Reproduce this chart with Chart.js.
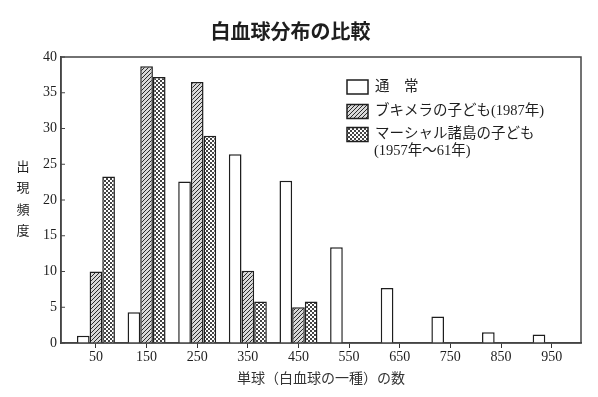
<!DOCTYPE html>
<html>
<head>
<meta charset="utf-8">
<script src="https://cdn.jsdelivr.net/npm/chart.js@4/dist/chart.umd.min.js"></script>
<style>
  html, body { margin: 0; padding: 0; background: #fff; }
  #wrap { width: 598px; height: 397px; }
</style>
</head>
<body>
<div id="wrap"><canvas id="c"></canvas></div>
<script>
const categories = [50, 150, 250, 350, 450, 550, 650, 750, 850, 950]
const normalValues = [1.0, 4.3, 22.6, 26.4, 22.7, 13.4, 7.7, 3.7, 1.5, 1.2]
const bikiniValues = [10.0, 38.7, 36.5, 10.1, 5.0, null, null, null, null, null]
const marshallValues = [23.3, 37.2, 29.0, 5.8, 5.8, null, null, null, null, null]
const yTicks = [0, 5, 10, 15, 20, 25, 30, 35, 40]
const seriesLabels = ['通　常', 'ブキメラの子ども(1987年)', ['マーシャル諸島の子ども', '(1957年～61年)']]

const serif = "'Liberation Serif', 'DejaVu Serif', 'Noto Sans CJK JP', serif"
const jp = "'Noto Sans CJK JP', sans-serif"
const ink = '#1e1e1e'

function makePattern(draw) {
  const c = document.createElement('canvas')
  c.width = 4
  c.height = 4
  const g = c.getContext('2d')
  draw(g)
  return g.createPattern(c, 'repeat')
}

// diagonal hatch
const hatch = makePattern(g => {
  g.fillStyle = '#d8d8d8'
  g.fillRect(0, 0, 4, 4)
  g.strokeStyle = '#2a2a2a'
  g.lineWidth = 1
  g.beginPath()
  g.moveTo(-1, 5); g.lineTo(5, -1)
  g.moveTo(-1, 1); g.lineTo(1, -1)
  g.moveTo(3, 5); g.lineTo(5, 3)
  g.stroke()
})

// fine checker dots
const dots = makePattern(g => {
  g.fillStyle = '#fff'
  g.fillRect(0, 0, 4, 4)
  g.fillStyle = '#444'
  g.fillRect(0, 0, 2, 2)
  g.fillRect(2, 2, 2, 2)
})

const fills = ['#ffffff', hatch, dots]

const toPoints = vals => categories.map((x, i) => ({ x, y: vals[i] }))

const frame = {
  id: 'frame',
  afterDraw(chart) {
    const { ctx, chartArea: a, scales } = chart
    ctx.save()
    ctx.strokeStyle = '#444'
    ctx.lineWidth = 1.5
    ctx.strokeRect(a.left, a.top, a.right - a.left, a.bottom - a.top)

    // y tick marks pointing inward
    ctx.lineWidth = 1
    yTicks.forEach(v => {
      const y = scales.y.getPixelForValue(v)
      ctx.beginPath()
      ctx.moveTo(a.left, y)
      ctx.lineTo(a.left + 4, y)
      ctx.stroke()
    })

    // vertical y axis title
    ctx.fillStyle = ink
    ctx.font = '13px ' + jp
    ctx.textAlign = 'center'
    ctx.textBaseline = 'middle'
    ;['出', '現', '頻', '度'].forEach((ch, i) => {
      ctx.fillText(ch, 23, 166 + i * 21.5)
    })

    // legend
    const bx = 347, bw = 21, bh = 14
    const rows = [87, 111.5, 134.5]
    ctx.font = '14.5px ' + serif
    ctx.textAlign = 'left'
    chart.data.datasets.forEach((ds, i) => {
      const cy = rows[i]
      ctx.fillStyle = fills[i]
      ctx.fillRect(bx, cy - bh / 2, bw, bh)
      ctx.strokeStyle = ink
      ctx.lineWidth = 1.5
      ctx.strokeRect(bx, cy - bh / 2, bw, bh)
      ctx.fillStyle = ink
      const lines = [].concat(seriesLabels[i])
      lines.forEach((t, j) => {
        ctx.fillText(t, bx + 28 + (j ? -1 : 0), cy + j * 17)
      })
    })
    ctx.restore()
  }
}

new Chart(document.getElementById('c'), {
  type: 'bar',
  data: {
    datasets: [
      { label: '通常', data: toPoints(normalValues) },
      { label: 'ブキメラの子ども(1987年)', data: toPoints(bikiniValues) },
      { label: 'マーシャル諸島の子ども(1957年～61年)', data: toPoints(marshallValues) }
    ].map((d, i) => ({
      ...d,
      backgroundColor: fills[i],
      borderColor: ink,
      borderWidth: 1.5,
      categoryPercentage: 0.75,
      barPercentage: 1
    }))
  },
  options: {
    responsive: true,
    maintainAspectRatio: false,
    animation: false,
    layout: { padding: { left: 0, right: 17, top: 0, bottom: 0 } },
    scales: {
      x: {
        type: 'linear',
        min: -19,
        max: 1008,
        offset: false,
        afterBuildTicks: s => { s.ticks = categories.map(v => ({ value: v })) },
        afterFit: s => { s.height = 54 },
        grid: { offset: false, drawOnChartArea: false, drawTicks: true, tickLength: 5, color: '#333' },
        border: { color: '#444', width: 1.5 },
        ticks: { color: ink, font: { family: serif, size: 14 }, padding: 1 },
        title: {
          display: true,
          text: '単球（白血球の一種）の数',
          color: '#333',
          font: { family: jp, size: 14 },
          padding: { top: 0, bottom: 11 }
        }
      },
      y: {
        min: 0,
        max: 40,
        afterBuildTicks: s => { s.ticks = yTicks.map(v => ({ value: v })) },
        afterFit: s => { s.width = 61 },
        grid: { display: false, drawTicks: false },
        border: { color: '#444', width: 1.5 },
        ticks: { color: ink, font: { family: serif, size: 14 }, padding: 4 }
      }
    },
    plugins: {
      legend: { display: false },
      tooltip: { enabled: false },
      title: {
        display: true,
        text: '白血球分布の比較',
        color: ink,
        font: { family: jp, size: 20, weight: 'bold' },
        padding: { top: 19, bottom: 14 }
      }
    }
  },
  plugins: [frame]
})
</script>
</body>
</html>
